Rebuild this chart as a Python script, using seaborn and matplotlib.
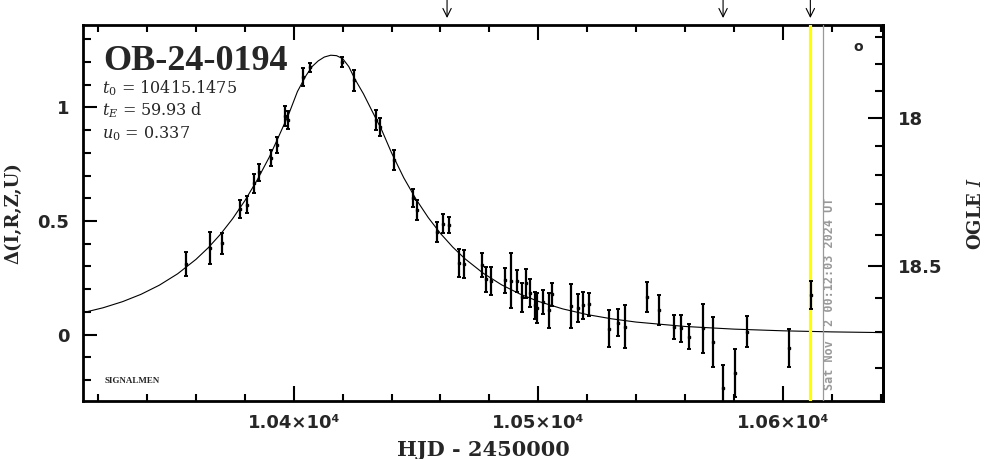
import numpy as np
import matplotlib
matplotlib.use("Agg")
import matplotlib.pyplot as plt
import matplotlib.transforms as mtransforms
from matplotlib.ticker import MultipleLocator, FixedLocator, FuncFormatter
import seaborn as sns

# Photometry: HJD - 2450000, delta mag, error
hjd = [10355.8, 10365.9, 10370.8, 10377.9, 10381.0, 10383.6, 10385.7, 10390.7,
       10393.0, 10396.4, 10397.8, 10403.7, 10406.7, 10419.6, 10424.7, 10433.8,
       10435.3, 10440.9, 10448.9, 10450.6, 10458.7, 10460.9, 10463.6, 10467.7,
       10469.7, 10476.8, 10478.7, 10480.6, 10486.6, 10488.7, 10491.5, 10493.4,
       10494.8, 10496.6, 10498.5, 10499.6, 10501.8, 10504.5, 10505.6, 10513.5,
       10516.4, 10518.2, 10520.6, 10528.8, 10532.8, 10535.5, 10544.6, 10549.5,
       10555.6, 10558.5, 10561.5, 10567.5, 10571.4, 10575.5, 10580.5, 10585.5,
       10602.4, 10611.4]
delta = [0.311, 0.380, 0.402, 0.552, 0.572, 0.666, 0.715, 0.779,
         0.836, 0.963, 0.945, 1.134, 1.176, 1.200, 1.119, 0.945,
         0.913, 0.767, 0.600, 0.548, 0.453, 0.487, 0.482, 0.314,
         0.309, 0.306, 0.244, 0.236, 0.238, 0.236, 0.237, 0.163,
         0.226, 0.183, 0.128, 0.117, 0.142, 0.106, 0.177, 0.125,
         0.117, 0.128, 0.133, 0.025, 0.052, 0.034, 0.165, 0.107,
         0.031, 0.027, -0.010, 0.027, -0.035, -0.237, -0.170, 0.013,
         -0.061, 0.173]
delta_err = [0.052, 0.070, 0.046, 0.040, 0.038, 0.043, 0.038, 0.035,
             0.035, 0.044, 0.040, 0.040, 0.018, 0.022, 0.048, 0.044,
             0.040, 0.044, 0.040, 0.044, 0.044, 0.042, 0.037, 0.062,
             0.062, 0.054, 0.055, 0.060, 0.057, 0.121, 0.048, 0.062,
             0.064, 0.062, 0.059, 0.066, 0.052, 0.077, 0.050, 0.097,
             0.060, 0.059, 0.050, 0.081, 0.060, 0.094, 0.066, 0.065,
             0.053, 0.059, 0.056, 0.109, 0.110, 0.101, 0.104, 0.067,
             0.084, 0.062]

# model curve
model_hjd = [10313.8, 10322, 10330, 10337.5, 10345, 10352.5, 10360, 10365,
             10370, 10375, 10380, 10385, 10390, 10394, 10398, 10401.5,
             10405, 10407.5, 10410, 10412.5, 10415.15, 10417.5, 10420, 10422.5,
             10425, 10428.5, 10432, 10436, 10440, 10445, 10450, 10455,
             10460, 10465, 10470, 10477.5, 10485, 10492.5, 10500, 10510,
             10520, 10530, 10540, 10560, 10580, 10600, 10620, 10641]
model_delta = [0.0962, 0.1177, 0.1448, 0.1769, 0.2171, 0.2674, 0.3309, 0.3819,
               0.4413, 0.5101, 0.5893, 0.6798, 0.7815, 0.8760, 0.9720, 1.0700,
               1.1400, 1.1800, 1.2050, 1.2220, 1.2300, 1.2280, 1.2150, 1.1800,
               1.1250, 1.0600, 0.9850, 0.9000, 0.8000, 0.6900, 0.5960, 0.5150,
               0.4451, 0.3853, 0.3338, 0.2698, 0.2189, 0.1783, 0.1461, 0.1128,
               0.0878, 0.0691, 0.0548, 0.0354, 0.0237, 0.0163, 0.0115, 0.0084]

event_name = "OB-24-0194"
param_lines = [r"$t_0$ = 10415.1475", r"$t_E$ = 59.93 d", r"$u_0$ = 0.337"]
arrow_hjd = [10462.7, 10575.6, 10611.3]
last_obs_hjd = 10611.3
now_hjd = 10616.6
now_label = "Sat Nov  2 00:12:03 2024 UT"

x_major = [10400, 10500, 10600]
x_labels = ["1.04×10⁴", "1.05×10⁴", "1.06×10⁴"]
y_major = [0, 0.5, 1]
y_labels = ["0", "0.5", "1"]
mag_major = [18.0, 18.5]

# OGLE I scale: flux (relative to I=18) = FS * 10**(0.4*delta) + FB
I_REF = 18.0
FS = 0.3408
FB = 0.1809


def delta_to_mag(d):
    d = np.asarray(d, dtype=float)
    return I_REF - 2.5 * np.log10(FS * 10 ** (0.4 * d) + FB)


def mag_to_delta(m):
    m = np.asarray(m, dtype=float)
    f = 10 ** (-0.4 * (m - I_REF))
    return 2.5 * np.log10(np.clip((f - FB) / FS, 1e-6, None))


sns.set_theme(style="white")
plt.rcParams['font.family'] = ['DejaVu Sans']
plt.rcParams['mathtext.fontset'] = 'dejavuserif'

fig, ax = plt.subplots(figsize=(9.86, 4.59), dpi=100)
fig.subplots_adjust(left=0.0842, right=0.8955, bottom=0.1253, top=0.9455)

ax.set_xlim(10313.8, 10641.0)
ax.set_ylim(-0.295, 1.363)

sns.lineplot(x=model_hjd, y=model_delta, ax=ax, color='black', lw=0.8,
             sort=False, zorder=2)
ax.axvline(last_obs_hjd, color='#ffff00', lw=2.3, zorder=3)
ax.axvline(now_hjd, color='#999999', lw=0.9, zorder=3)
ax.errorbar(hjd, delta, yerr=delta_err, fmt='s', ms=2, color='black',
            elinewidth=1.6, capsize=1.5, capthick=1.4, zorder=4)

trans = mtransforms.blended_transform_factory(ax.transData, ax.transAxes)
ax.text(now_hjd + 2.5, 0.03, now_label, transform=trans, rotation=90,
        ha='center', va='bottom', color='#999999', fontsize=8.5,
        family='DejaVu Sans Mono', weight='bold')

for a in arrow_hjd:
    ax.annotate('', xy=(a, 1.0186), xytext=(a, 1.0664), xycoords=trans,
                textcoords=trans, annotation_clip=False,
                arrowprops=dict(arrowstyle='->,head_length=0.5,head_width=0.25',
                                color='black', lw=0.8, shrinkA=0, shrinkB=0))

# labels inside the frame
ax.text(0.025, 0.8805, event_name, transform=ax.transAxes, va='baseline',
        fontsize=26, family='Liberation Serif', weight='bold')
for i, line in enumerate(param_lines):
    ax.text(0.024, 0.819 - i * 0.0595, line, transform=ax.transAxes,
            va='baseline', fontsize=11.5, family='DejaVu Serif')
ax.text(0.0275, 0.049, "SIGNALMEN", transform=ax.transAxes, va='baseline',
        fontsize=6.5, family='Liberation Serif', weight='bold')
ax.text(0.969, 0.9415, 'o', transform=ax.transAxes, ha='center', va='center',
        fontsize=10, weight='bold')

# ticks
ax.set_xticks(x_major, x_labels)
ax.xaxis.set_minor_locator(MultipleLocator(20))
ax.set_yticks(y_major, y_labels)
ax.yaxis.set_minor_locator(MultipleLocator(0.1))
ax.tick_params(which='both', direction='in', top=True, bottom=True, left=True,
               right=False, width=1.5, color='black', labelsize=13)
ax.tick_params(axis='x', which='major', length=10.5, pad=9)
ax.tick_params(axis='x', which='minor', length=5)
ax.tick_params(axis='y', which='major', length=10, pad=10)
ax.tick_params(axis='y', which='minor', length=5.8)
for lab in ax.get_xticklabels() + ax.get_yticklabels():
    lab.set_fontweight('bold')

sec = ax.secondary_yaxis('right', functions=(delta_to_mag, mag_to_delta))
sec.yaxis.set_major_locator(FixedLocator(mag_major))
sec.yaxis.set_major_formatter(FuncFormatter(lambda v, p: f"{v:g}"))
sec.yaxis.set_minor_locator(MultipleLocator(0.1))
sec.tick_params(which='both', direction='in', width=1.5, color='black',
                labelsize=13)
sec.tick_params(which='major', length=10.5, pad=11)
sec.tick_params(which='minor', length=5.8)
for lab in sec.get_yticklabels():
    lab.set_fontweight('bold')
sec.spines['right'].set_linewidth(2)
sec.spines['right'].set_color('black')

for sp in ax.spines.values():
    sp.set_linewidth(2)
    sp.set_color('black')

ax.set_xlabel('HJD - 2450000', fontsize=15, family='DejaVu Serif', weight='bold')
ax.xaxis.set_label_coords(0.5, -0.102)
ax.set_ylabel('Δ(I,R,Z,U)', fontsize=13, family='DejaVu Serif', weight='bold')
ax.yaxis.set_label_coords(-0.076, 0.5)
fig.text(976 / 986, 1 - 213 / 459, 'OGLE $I$', rotation=90, ha='center',
         va='center', fontsize=13, family='DejaVu Serif', weight='bold')

fig.savefig('out.png', dpi=100)
